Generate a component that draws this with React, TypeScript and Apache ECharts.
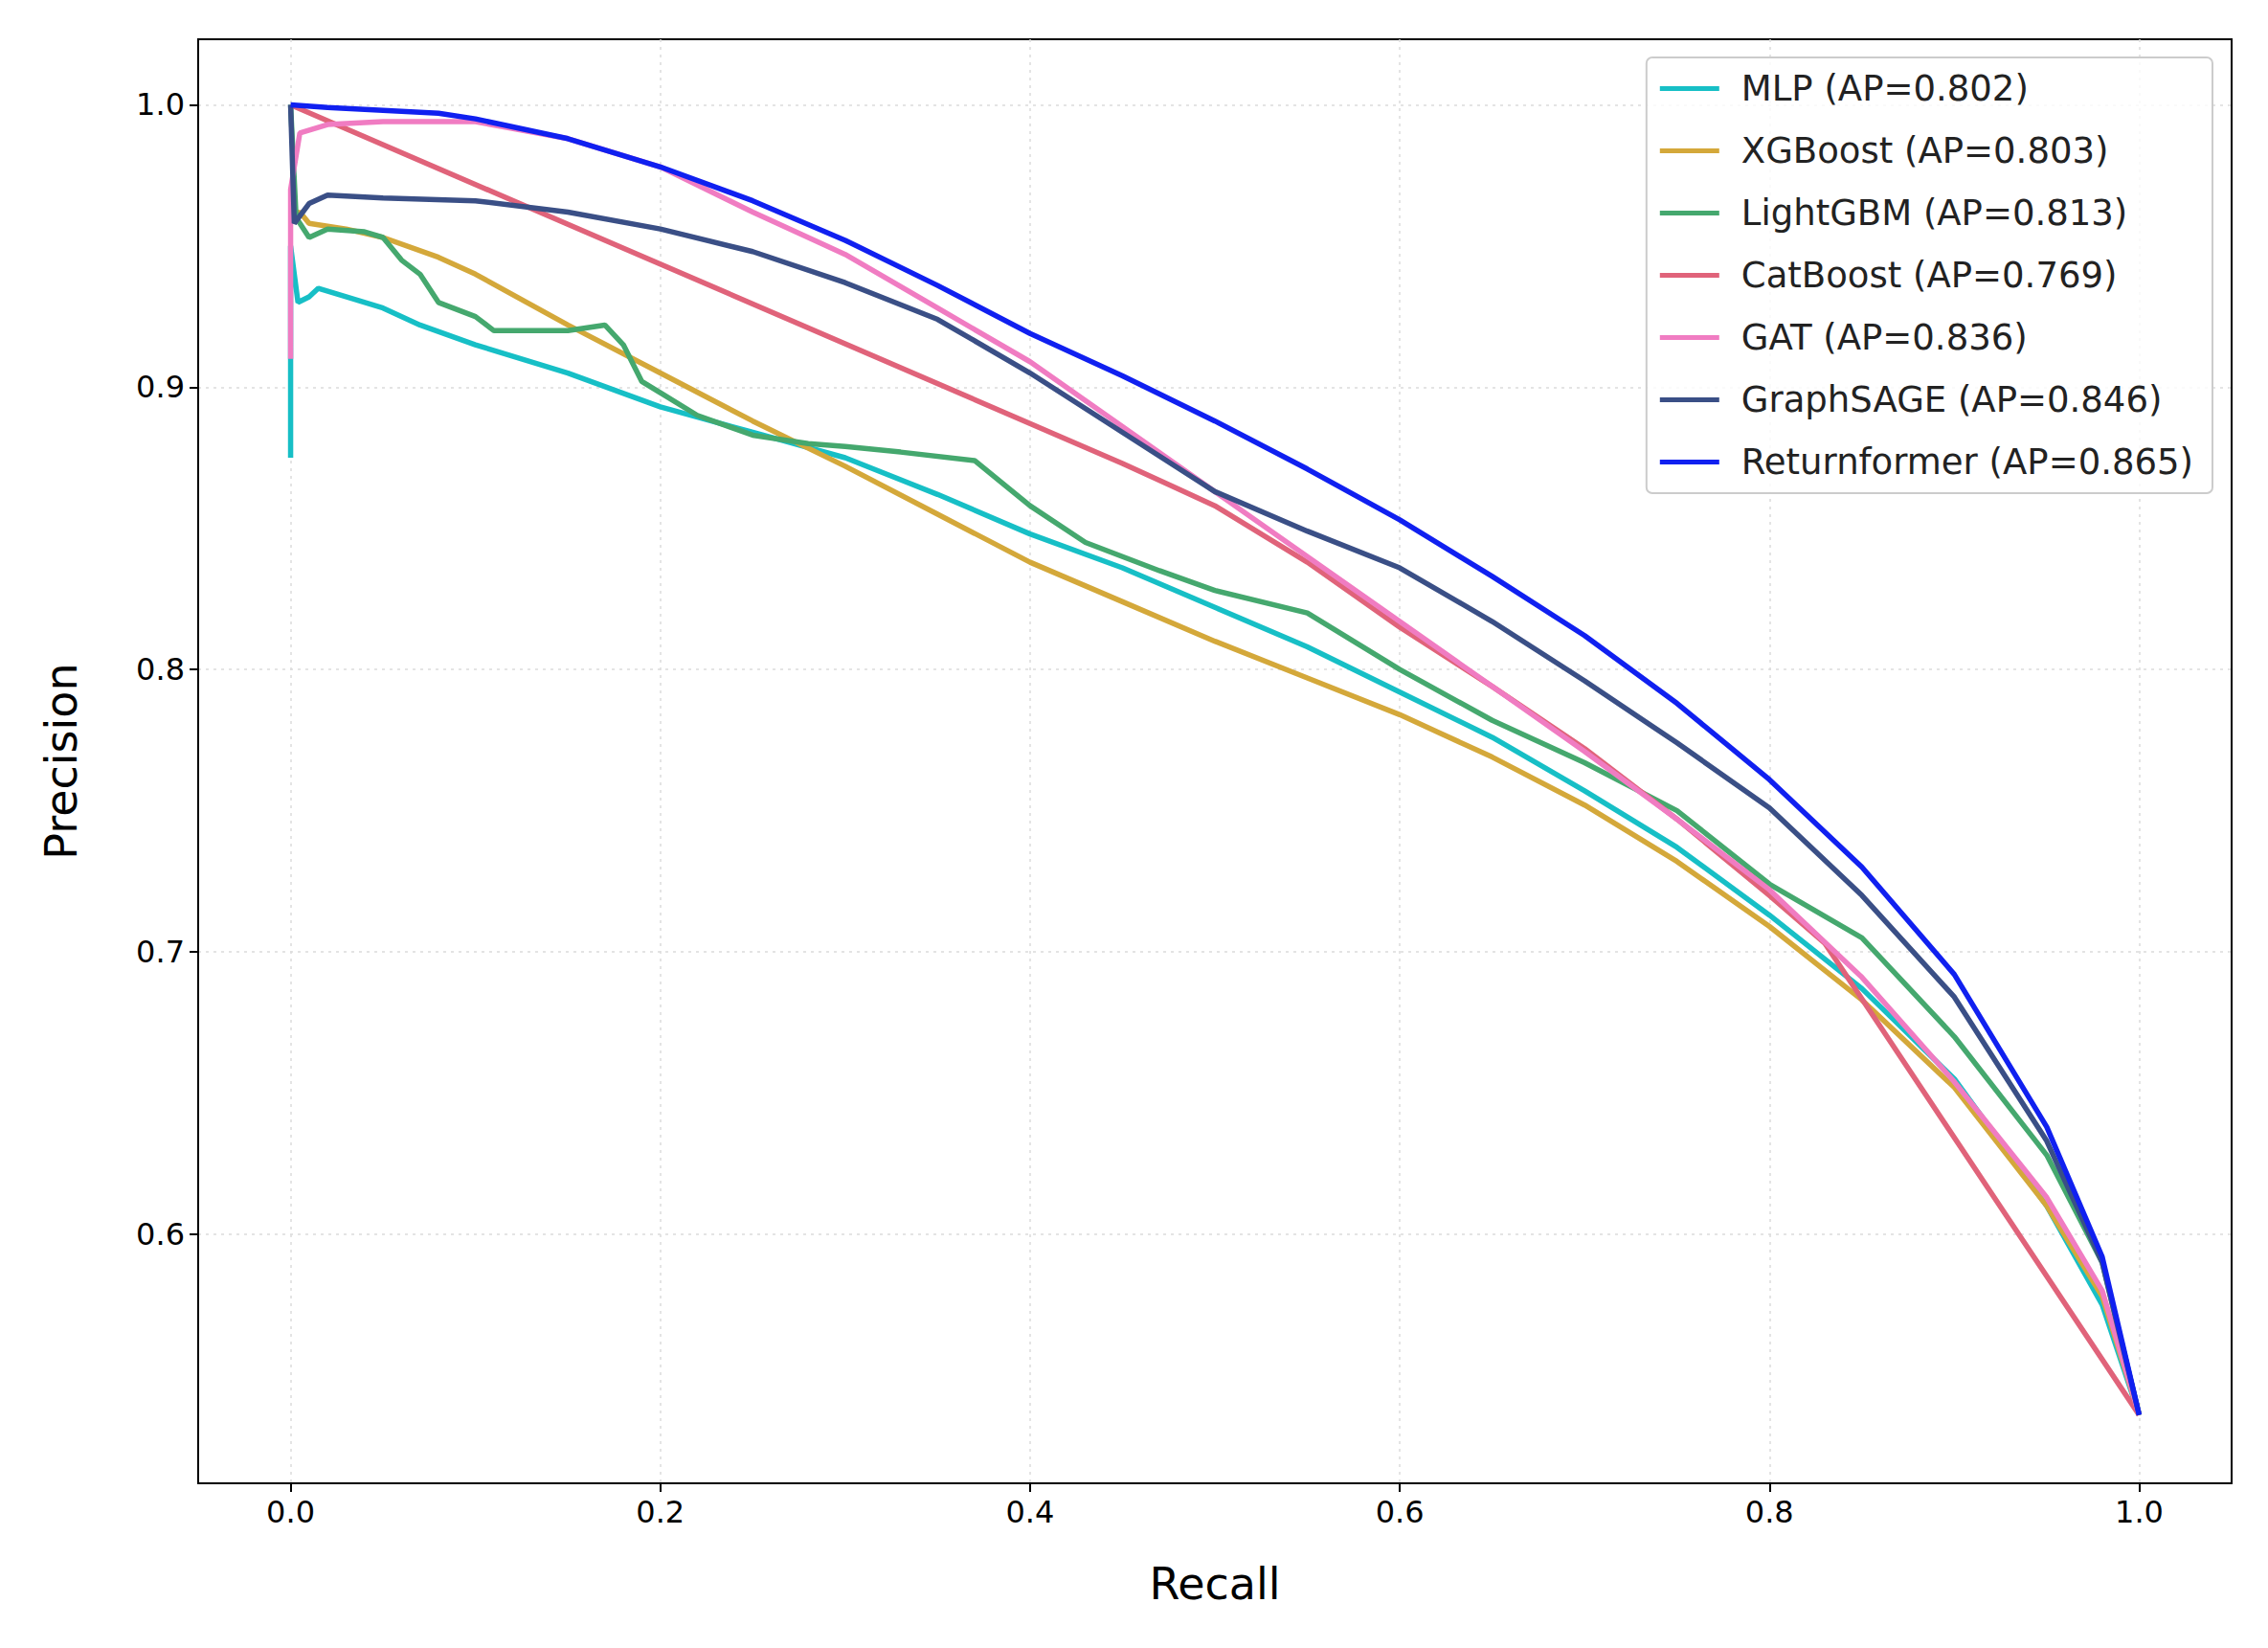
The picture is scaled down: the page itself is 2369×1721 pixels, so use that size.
import { useEffect, useRef } from 'react';
import * as echarts from 'echarts';

// Model names and colours, in legend order
const models = [
    'MLP (AP=0.802)',
    'XGBoost (AP=0.803)',
    'LightGBM (AP=0.813)',
    'CatBoost (AP=0.769)',
    'GAT (AP=0.836)',
    'GraphSAGE (AP=0.846)',
    'Returnformer (AP=0.865)',
];
const colors = ['#17bfc6', '#d4a83a', '#45a86e', '#e0637a', '#f07cc2', '#3a4f86', '#1020f0'];

const xTicks = [0, 0.2, 0.4, 0.6, 0.8, 1.0];
const yTicks = [0.6, 0.7, 0.8, 0.9, 1.0];

// [recall, precision] points
const mlp = [
    [0, 0.875], [0, 0.95], [0.004, 0.93], [0.01, 0.932], [0.015, 0.935], [0.03, 0.932], [0.05, 0.928],
    [0.07, 0.922], [0.1, 0.915], [0.15, 0.905], [0.2, 0.893], [0.25, 0.884], [0.3, 0.875],
    [0.35, 0.862], [0.4, 0.848], [0.45, 0.836], [0.5, 0.822], [0.55, 0.808], [0.6, 0.792],
    [0.65, 0.776], [0.7, 0.757], [0.75, 0.737], [0.8, 0.713], [0.85, 0.687], [0.9, 0.655],
    [0.95, 0.61], [0.98, 0.575], [1.0, 0.536],
];
const xgboost = [
    [0, 0.96], [0.005, 0.962], [0.01, 0.958], [0.03, 0.956], [0.05, 0.953], [0.08, 0.946],
    [0.1, 0.94], [0.15, 0.922], [0.2, 0.905], [0.25, 0.888], [0.3, 0.872], [0.35, 0.855],
    [0.4, 0.838], [0.45, 0.824], [0.5, 0.81], [0.55, 0.797], [0.6, 0.784], [0.65, 0.769],
    [0.7, 0.752], [0.75, 0.732], [0.8, 0.709], [0.85, 0.683], [0.9, 0.652], [0.95, 0.61],
    [0.98, 0.578], [1.0, 0.536],
];
const lightgbm = [
    [0, 1.0], [0.003, 0.96], [0.01, 0.953], [0.02, 0.956], [0.04, 0.955], [0.05, 0.953],
    [0.06, 0.945], [0.07, 0.94], [0.08, 0.93], [0.1, 0.925], [0.11, 0.92], [0.13, 0.92],
    [0.15, 0.92], [0.17, 0.922], [0.18, 0.915], [0.19, 0.902], [0.2, 0.898], [0.22, 0.89],
    [0.25, 0.883], [0.28, 0.88], [0.3, 0.879], [0.33, 0.877], [0.37, 0.874], [0.4, 0.858],
    [0.43, 0.845], [0.47, 0.835], [0.5, 0.828], [0.55, 0.82], [0.6, 0.8], [0.65, 0.782],
    [0.7, 0.767], [0.75, 0.75], [0.8, 0.724], [0.85, 0.705], [0.9, 0.67], [0.95, 0.628],
    [0.98, 0.59], [1.0, 0.536],
];
const catboost = [
    [0, 1.0], [0.45, 0.873], [0.5, 0.858], [0.55, 0.838], [0.6, 0.815], [0.65, 0.794],
    [0.7, 0.772], [0.75, 0.747], [0.8, 0.72], [0.83, 0.703], [1.0, 0.536],
];
const gat = [
    [0, 0.91], [0, 0.97], [0.005, 0.99], [0.02, 0.993], [0.05, 0.994], [0.1, 0.994],
    [0.15, 0.988], [0.2, 0.978], [0.25, 0.962], [0.3, 0.947], [0.35, 0.928], [0.4, 0.909],
    [0.45, 0.886], [0.5, 0.863], [0.55, 0.84], [0.6, 0.817], [0.65, 0.794], [0.7, 0.771],
    [0.75, 0.747], [0.8, 0.722], [0.85, 0.691], [0.9, 0.654], [0.95, 0.613], [0.98, 0.58],
    [1.0, 0.536],
];
const graphsage = [
    [0, 1.0], [0.002, 0.958], [0.01, 0.965], [0.02, 0.968], [0.05, 0.967], [0.1, 0.966],
    [0.15, 0.962], [0.2, 0.956], [0.25, 0.948], [0.3, 0.937], [0.35, 0.924], [0.4, 0.905],
    [0.45, 0.884], [0.5, 0.863], [0.55, 0.849], [0.6, 0.836], [0.65, 0.817], [0.7, 0.796],
    [0.75, 0.774], [0.8, 0.751], [0.85, 0.72], [0.9, 0.684], [0.95, 0.633], [0.98, 0.59],
    [1.0, 0.536],
];
const returnformer = [
    [0, 1.0], [0.02, 0.999], [0.05, 0.998], [0.08, 0.997], [0.1, 0.995], [0.15, 0.988],
    [0.2, 0.978], [0.25, 0.966], [0.3, 0.952], [0.35, 0.936], [0.4, 0.919], [0.45, 0.904],
    [0.5, 0.888], [0.55, 0.871], [0.6, 0.853], [0.65, 0.833], [0.7, 0.812], [0.75, 0.788],
    [0.8, 0.761], [0.85, 0.73], [0.9, 0.692], [0.95, 0.638], [0.98, 0.592], [1.0, 0.536],
];
const curves = [mlp, xgboost, lightgbm, catboost, gat, graphsage, returnformer];

const font = 'DejaVu Sans';

export default function App() {
    const chartRef = useRef<HTMLDivElement>(null);

    useEffect(() => {
        document.body.style.margin = '0';
        if (!chartRef.current) return;
        const chart = echarts.init(chartRef.current, null, { renderer: 'svg' });
        chart.setOption({
            animation: false,
            backgroundColor: '#fff',
            textStyle: { fontFamily: font },
            grid: {
                left: 207, right: 38, top: 41, bottom: 172,
                show: true, borderColor: '#000', borderWidth: 2, backgroundColor: 'transparent',
            },
            legend: {
                orient: 'vertical',
                right: 58, top: 60,
                padding: [14, 20, 14, 14],
                itemGap: 28,
                itemWidth: 62, itemHeight: 5,
                icon: 'rect',
                backgroundColor: 'rgba(255,255,255,0.8)',
                borderColor: '#ccc', borderWidth: 2, borderRadius: 6,
                textStyle: { fontSize: 37, fontFamily: font, color: '#222', padding: [0, 0, 0, 18] },
                data: models,
            },
            xAxis: {
                type: 'value', min: -0.05, max: 1.05,
                name: 'Recall', nameLocation: 'middle', nameGap: 82,
                nameTextStyle: { fontSize: 46, color: '#000', fontFamily: font },
                axisLine: { show: true, onZero: false, lineStyle: { color: '#000', width: 2 } },
                axisTick: { show: true, customValues: xTicks, length: 9, lineStyle: { color: '#000', width: 2 } },
                axisLabel: { customValues: xTicks, fontSize: 32, color: '#000', margin: 14, formatter: (v: number) => v.toFixed(1) },
                splitLine: { show: true, lineStyle: { color: '#dcdcdc', type: [3, 5], width: 1.5 } },
            },
            yAxis: {
                type: 'value', min: 0.5118, max: 1.0232,
                name: 'Precision', nameLocation: 'middle', nameGap: 120,
                nameTextStyle: { fontSize: 46, color: '#000', fontFamily: font },
                axisLine: { show: true, onZero: false, lineStyle: { color: '#000', width: 2 } },
                axisTick: { show: true, customValues: yTicks, length: 9, lineStyle: { color: '#000', width: 2 } },
                axisLabel: { customValues: yTicks, fontSize: 32, color: '#000', margin: 14, formatter: (v: number) => v.toFixed(1) },
                splitLine: { show: true, lineStyle: { color: '#dcdcdc', type: [3, 5], width: 1.5 } },
            },
            series: models.map((name, i) => ({
                name,
                type: 'line',
                data: curves[i],
                showSymbol: false,
                smooth: false,
                color: colors[i],
                lineStyle: { width: 5.5, color: colors[i] },
                z: 2 + i,
            })),
        });
        return () => chart.dispose();
    }, []);

    return <div ref={chartRef} style={{ width: 2369, height: 1721 }} />;
}
